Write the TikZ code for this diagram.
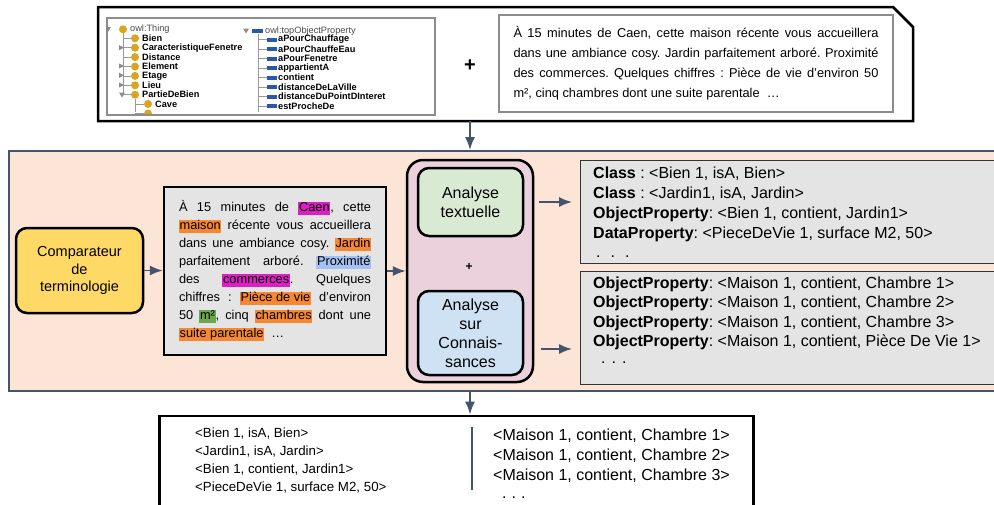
\documentclass[tikz,border=0pt]{standalone}
\usepackage{fontspec}
\setmainfont{Liberation Sans}
\usepackage{xcolor}
\usepackage{tikz}
\usetikzlibrary{calc}
\usetikzlibrary{arrows.meta}

\definecolor{peche}{HTML}{FCE4D6}
\definecolor{ardoise}{HTML}{44546A}
\definecolor{grisclair}{HTML}{E4E4E4}
\definecolor{jaune}{HTML}{FFD966}
\definecolor{mauve}{HTML}{EAD1DC}
\definecolor{vertpale}{HTML}{D9EAD3}
\definecolor{bleupale}{HTML}{CFE2F3}
\definecolor{hlrose}{HTML}{DD1FC3}
\definecolor{hlorange}{HTML}{F7882F}
\definecolor{hlbleu}{HTML}{A4C2F4}
\definecolor{hlvert}{HTML}{6AA84F}
\definecolor{owlor}{HTML}{D9A521}
\definecolor{owlbleu}{HTML}{2958A8}
\definecolor{cadre}{HTML}{8C8C8C}

\newcommand{\surligne}[2]{{\setlength{\fboxsep}{0.6pt}\colorbox{#1}{\rule[-3.2pt]{0pt}{11.8pt}#2}}}
\frenchspacing

\begin{document}
\begin{tikzpicture}[x=1pt,y=-1pt,>={Latex[length=13pt,width=10pt]}]
		\tikzset{
			flux/.style={->,draw=ardoise,line width=1.6pt},
			bloc/.style={draw=black,line width=2.5pt,rounded corners=11pt,align=center,inner sep=0pt},
			liste/.style={draw=black!80,line width=1.4pt,fill=grisclair,inner sep=0pt,anchor=north west},
			ligne/.style={anchor=base west,inner sep=0pt},
			onto/.style={anchor=west,inner sep=0pt,font=\fontsize{9.2}{10}\selectfont\bfseries},
			ontoracine/.style={anchor=west,inner sep=0pt,text=black!70,font=\fontsize{9.2}{10}\selectfont},
			pointe/.style={fill=black!45}
		}
		\useasboundingbox (0,0) rectangle (994,504);
		\clip (0,0) rectangle (994,504);

		% Entrees : ontologie + annonce
		\draw[line width=2.5pt,fill=white] (98,7) -- (893,7) -- (913,27) -- (913,121) -- (98,121) -- cycle;
		\coordinate (entrees) at (470,121);
		\node at (107,18) (ontologie) [anchor=north west,minimum width=328,minimum height=97,inner sep=0pt] {};
		\begin{scope}
			\clip (ontologie.north west) rectangle (ontologie.south east);
			% classes
			\draw[black!40,line width=0.6pt] (123,33) -- (123,95) (135,99) -- (135,112);
			\fill[pointe] (105,27) -- (111,27) -- (108,32) -- cycle;
			\fill[owlor] (123,29.3) circle (4);
			\node at (130,29.3) [ontoracine] {owl:Thing};
			\foreach \nom [count=\i] in {Bien,CaracteristiqueFenetre,Distance,Element,Etage,Lieu,PartieDeBien}{
				\draw[black!40,line width=0.6pt] (123,{38.3+9.4*(\i-1)}) -- (131,{38.3+9.4*(\i-1)});
				\fill[owlor] (135,{38.3+9.4*(\i-1)}) circle (4);
				\node at (142,{38.3+9.4*(\i-1)}) [onto] {\nom};
			}
			\foreach \y in {47.7,66,75.3,85}{
				\fill[pointe] (119,\y-2.6) -- (124,\y) -- (119,\y+2.6) -- cycle;
			}
			\fill[pointe] (119,92.5) -- (125,92.5) -- (122,97.5) -- cycle;
			\draw[black!40,line width=0.6pt] (135,104) -- (144,104) (135,113) -- (144,113);
			\fill[owlor] (148,104) circle (4);
			\node at (155,104) [onto] {Cave};
			\fill[owlor] (148,113.5) circle (4);
			% proprietes
			\fill[pointe] (243,28.5) -- (249,28.5) -- (246,33.5) -- cycle;
			\fill[owlbleu] (252,28.7) rectangle (263,32.7);
			\node at (265,30.7) [ontoracine] {owl:topObjectProperty};
			\draw[black!40,line width=0.6pt] (258,34) -- (258,112);
			\foreach \nom [count=\i] in {aPourChauffage,aPourChauffeEau,aPourFenetre,appartientA,contient,distanceDeLaVille,distanceDuPointDInteret,estProcheDe}{
				\draw[black!40,line width=0.6pt] (258,{39.5+9.5*(\i-1)}) -- (267,{39.5+9.5*(\i-1)});
				\fill[owlbleu] (267,{37.5+9.5*(\i-1)}) rectangle (277,{41.5+9.5*(\i-1)});
				\node at (278,{39.5+9.5*(\i-1)}) [onto] {\nom};
			}
		\end{scope}
		\draw[cadre,line width=2pt] (ontologie.north west) rectangle (ontologie.south east);
		\node at (470,66) (plusentree) [font=\fontsize{20}{20}\selectfont\bfseries] {+};
		\node at (696,63.5) (annoncebrute) [draw=cadre,line width=2pt,minimum width=394,minimum height=97,inner sep=0pt,
			text width=365pt,align=justify,font=\fontsize{12.8}{20}\selectfont]
			{À 15 minutes de Caen, cette maison récente vous accueillera\linebreak dans une ambiance cosy. Jardin parfaitement arboré. Proximité\linebreak des commerces. Quelques chiffres : Pièce de vie d'environ 50\linebreak m², cinq chambres dont une suite parentale \ …};

		% Traitement
		\node at (8,150) (panneau) [anchor=north west,draw=ardoise,fill=peche,line width=2pt,minimum width=1000,minimum height=240,inner sep=0pt] {};
		\draw[flux] (entrees) -- (entrees |- panneau.north);

		\node at (79.5,270.5) (comparateur) [bloc,fill=jaune,minimum width=127,minimum height=85,font=\fontsize{14.5}{17.5}\selectfont] {Comparateur\\de\\terminologie};
		\node at (275,271) (annonce) [draw=black,line width=2.5pt,fill=grisclair,minimum width=222,minimum height=168,inner sep=0pt,
			text width=192pt,align=justify,font=\fontsize{12.8}{18}\selectfont]
			{À 15 minutes de \surligne{hlrose}{Caen}, cette\linebreak \surligne{hlorange}{maison} récente vous accueillera\linebreak dans une ambiance cosy. \surligne{hlorange}{Jardin}\linebreak parfaitement arboré. \surligne{hlbleu}{Proximité}\linebreak des \surligne{hlrose}{commerces}. Quelques\linebreak chiffres : \surligne{hlorange}{Pièce de vie} d'environ\linebreak 50 \surligne{hlvert}{m²}, cinq \surligne{hlorange}{chambres} dont une\linebreak \surligne{hlorange}{suite parentale} \ …};
		\draw[flux] (comparateur.east) -- (comparateur.east -| annonce.west);

		\node at (470,271) (analyses) [bloc,fill=mauve,rounded corners=16pt,minimum width=126,minimum height=222] {};
		\node at (470.5,202) (textuelle) [bloc,fill=vertpale,minimum width=105,minimum height=68,font=\fontsize{16}{19}\selectfont] {Analyse\\textuelle};
		\node at (469,267) (et) [font=\fontsize{12}{12}\selectfont\bfseries] {+};
		\node at (470.5,333) (connaissances) [bloc,fill=bleupale,minimum width=105,minimum height=84,font=\fontsize{16}{19}\selectfont] {Analyse\\sur\\Connais-\\sances};
		\draw[flux] (annonce.east) -- (annonce.east -| analyses.west);

		% Triplets extraits
		\node at (580,159.5) (triplets1) [liste,minimum width=430,minimum height=103] {};
		\node at (580,270.5) (triplets2) [liste,minimum width=430,minimum height=113] {};
		\draw[flux,shorten <=5pt,shorten >=8pt] (textuelle.east -| analyses.east) -- (textuelle.east -| triplets1.west);
		\draw[flux,shorten <=7pt,shorten >=8pt] ([yshift=-16pt]connaissances.east -| analyses.east) -- ([yshift=-16pt]connaissances.east -| triplets2.west);
		\foreach \k/\v [count=\i] in {Class/{ : <Bien 1, isA, Bien>},Class/{ : <Jardin1, isA, Jardin>},ObjectProperty/{: <Bien 1, contient, Jardin1>},DataProperty/{: <PieceDeVie 1, surface M2, 50>}}{
			\node at (593,{158.6+20*\i}) [ligne,font=\fontsize{16}{19}\selectfont] {\textbf{\k}\v};
		}
		\node at (596,257) [ligne,font=\fontsize{16}{19}\selectfont] {.\hspace{10pt}.\hspace{10pt}.};
		\foreach \v [count=\i] in {{<Maison 1, contient, Chambre 1>},{<Maison 1, contient, Chambre 2>},{<Maison 1, contient, Chambre 3>},{<Maison 1, contient, Pièce De Vie 1>}}{
			\node at (593,{269.3+19.3*\i}) [ligne,font=\fontsize{16}{19}\selectfont] {\textbf{ObjectProperty}: \v};
		}
		\node at (601,363) [ligne,font=\fontsize{16}{19}\selectfont] {.\hspace{6pt}.\hspace{6pt}.};

		% Resultat
		\node at (158,414.5) (resultat) [anchor=north west,draw=black,line width=2.5pt,fill=white,minimum width=594,minimum height=100,inner sep=0pt] {};
		\draw[flux] (entrees |- panneau.south) -- (entrees |- resultat.north);
		\foreach \v [count=\i] in {{<Bien 1, isA, Bien>},{<Jardin1, isA, Jardin>},{<Bien 1, contient, Jardin1>},{<PieceDeVie 1, surface M2, 50>}}{
			\node at (195,{419.7+18*\i}) [ligne,font=\fontsize{13.3}{18}\selectfont] {\v};
		}
		\draw[ardoise,line width=1.3pt] (472,427) -- (472,490);
		\foreach \v [count=\i] in {{<Maison 1, contient, Chambre 1>},{<Maison 1, contient, Chambre 2>},{<Maison 1, contient, Chambre 3>}}{
			\node at (493,{420+20*\i}) [ligne,font=\fontsize{16}{19}\selectfont] {\v};
		}
		\node at (502,498) [ligne,font=\fontsize{16}{19}\selectfont] {.\hspace{5pt}.\hspace{5pt}.};
	\end{tikzpicture}
\end{document}
